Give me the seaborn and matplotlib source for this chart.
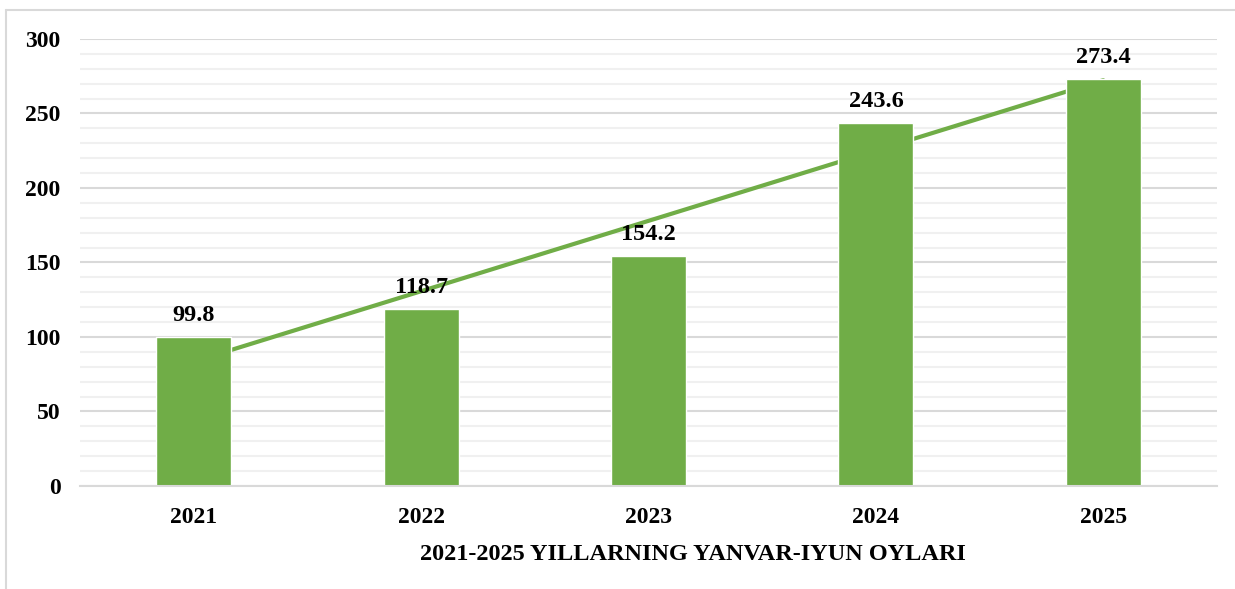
import numpy as np
import pandas as pd
import matplotlib
matplotlib.use("Agg")
import matplotlib.pyplot as plt
from matplotlib.lines import Line2D
from matplotlib.ticker import MultipleLocator
import seaborn as sns

years = ["2021", "2022", "2023", "2024", "2025"]
values = [99.8, 118.7, 154.2, 243.6, 273.4]
x_title = "2021-2025 YILLARNING YANVAR-IYUN OYLARI"

df = pd.DataFrame({"year": years, "value": values})

sns.set_style("white")
plt.rcParams['font.family'] = ['Liberation Serif', 'DejaVu Serif']
plt.rcParams['font.weight'] = 'bold'
plt.rcParams['text.color'] = 'black'
plt.rcParams['xtick.color'] = 'black'
plt.rcParams['ytick.color'] = 'black'
plt.rcParams['axes.labelcolor'] = 'black'

green = "#70AD47"

fig = plt.figure(figsize=(12.35, 5.89), dpi=100)
ax = fig.add_axes([0.0648, 0.1749, 0.9206, 0.7589])

# linear trend line behind the bars
xs = np.arange(len(values))
slope, icept = np.polyfit(xs + 1, values, 1)
ax.plot(xs, slope * (xs + 1) + icept, color=green, lw=3, zorder=1)

sns.barplot(data=df, x="year", y="value", color=green, width=0.33,
            saturation=1, ax=ax, zorder=2)

for i, v in enumerate(values):
    ax.annotate(f"{v:.1f}", (i, v), xytext=(0, 8), textcoords="offset points",
                ha="center", va="bottom", fontsize=17.5, fontweight="bold",
                color="black")

ax.set_ylim(0, 300)
ax.set_xlim(-0.5, 4.5)
ax.yaxis.set_major_locator(MultipleLocator(50))
ax.yaxis.set_minor_locator(MultipleLocator(10))
ax.grid(axis='y', which='major', color='#d9d9d9', lw=1.5, zorder=0)
ax.grid(axis='y', which='minor', color='#f0f0f0', lw=1.5, zorder=0)
ax.set_axisbelow(True)

for s in ["top", "right", "left"]:
    ax.spines[s].set_visible(False)
ax.spines["bottom"].set_color("#d9d9d9")
ax.spines["bottom"].set_linewidth(1.5)

ax.tick_params(axis='both', length=0, labelsize=17)
ax.tick_params(axis='y', pad=14)
ax.tick_params(axis='x', pad=15)
for lab in ax.get_xticklabels() + ax.get_yticklabels():
    lab.set_fontweight("bold")

ax.set_ylabel("")
ax.set_xlabel(x_title, fontsize=17.5, fontweight="bold")
ax.xaxis.set_label_coords(0.539, -0.13)

# light frame around the chart (top and left only are visible)
fig.add_artist(Line2D([6 / 1235, 1], [1 - 10 / 589, 1 - 10 / 589],
                      transform=fig.transFigure, color="#d9d9d9", lw=1.5))
fig.add_artist(Line2D([6 / 1235, 6 / 1235], [0, 1 - 10 / 589],
                      transform=fig.transFigure, color="#d9d9d9", lw=1.5))

fig.savefig("out.png", dpi=100)
